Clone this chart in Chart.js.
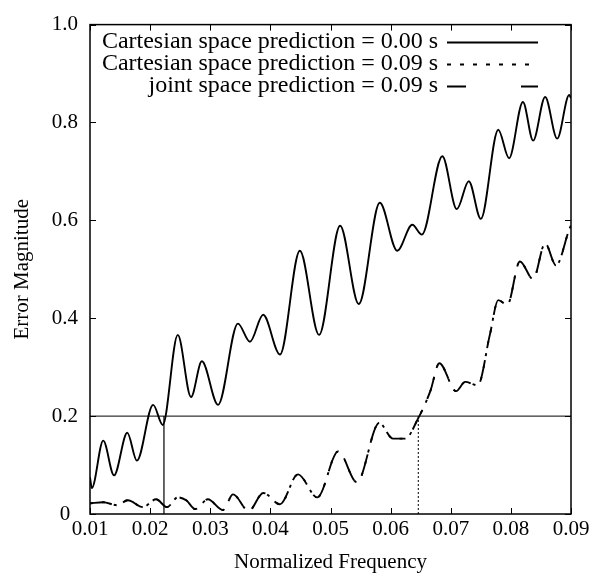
<!DOCTYPE html>
<html>
<head>
<meta charset="utf-8">
<script src="https://cdn.jsdelivr.net/npm/chart.js@4"></script>
<style>
  html, body { margin: 0; padding: 0; background: #fff; }
  #wrap { width: 593px; height: 577px; }
</style>
</head>
<body>
<div id="wrap"><canvas id="c" width="593" height="577"></canvas></div>
<script>
// ---- data ----
const seriesNames = [
  'Cartesian space prediction = 0.00 s',
  'Cartesian space prediction = 0.09 s',
  'joint space prediction = 0.09 s'
];
const cart000Freq = [0.0100,0.0103,0.0122,0.0140,0.0162,0.0178,0.0205,0.0221,0.0246,0.0268,0.0286,0.0313,0.0346,0.0366,0.0388,0.0416,0.0449,0.0481,0.0516,0.0547,0.0582,0.0611,0.0636,0.0652,0.0686,0.0710,0.0730,0.0750,0.0779,0.0797,0.0820,0.0837,0.0857,0.0877,0.0897,0.0900];
const cart000Err  = [0.075,0.053,0.150,0.079,0.166,0.109,0.223,0.182,0.366,0.239,0.312,0.223,0.389,0.352,0.407,0.326,0.538,0.366,0.589,0.429,0.636,0.538,0.591,0.571,0.731,0.623,0.680,0.603,0.785,0.727,0.842,0.763,0.852,0.767,0.856,0.850];

const cart009Freq = [0.0100,0.0122,0.0145,0.0163,0.0188,0.0210,0.0228,0.0246,0.0260,0.0275,0.0296,0.0321,0.0338,0.0364,0.0388,0.0416,0.0446,0.0478,0.0513,0.0544,0.0581,0.0604,0.0624,0.0646,0.0666,0.0681,0.0709,0.0724,0.0745,0.0765,0.0779,0.0794,0.0815,0.0837,0.0857,0.0875,0.0897,0.0900];
const cart009Err  = [0.022,0.024,0.018,0.028,0.014,0.030,0.014,0.034,0.028,0.010,0.030,0.008,0.040,0.006,0.043,0.020,0.081,0.034,0.128,0.065,0.186,0.154,0.154,0.196,0.251,0.308,0.251,0.270,0.263,0.366,0.437,0.427,0.516,0.480,0.553,0.508,0.581,0.590];

const joint009Freq = [0.0100,0.0122,0.0145,0.0163,0.0188,0.0210,0.0228,0.0246,0.0260,0.0275,0.0296,0.0321,0.0338,0.0364,0.0388,0.0416,0.0446,0.0478,0.0513,0.0544,0.0581,0.0604,0.0624,0.0646,0.0666,0.0681,0.0709,0.0724,0.0745,0.0765,0.0779,0.0794,0.0815,0.0837,0.0857,0.0875,0.0897,0.0900];
const joint009Err  = [0.022,0.024,0.018,0.028,0.014,0.030,0.014,0.034,0.028,0.010,0.030,0.008,0.040,0.006,0.043,0.020,0.081,0.034,0.128,0.065,0.186,0.154,0.154,0.196,0.251,0.308,0.251,0.270,0.263,0.366,0.437,0.427,0.516,0.480,0.553,0.508,0.581,0.590];

const thresholdLevel = 0.2;
const crossCart000 = 0.0223;   // where 0.00 s curve crosses 0.2
const crossPred009 = 0.0646;   // where 0.09 s curves cross 0.2
const xTickLabels = ['0.01','0.02','0.03','0.04','0.05','0.06','0.07','0.08','0.09'];
const yTickLabels = ['0','0.2','0.4','0.6','0.8','1.0'];
const xTitle = 'Normalized Frequency';
const yTitle = 'Error Magnitude';

// ---- build chart ----
const FONT = 'Liberation Serif';
const pts = (xs, ys) => xs.map((x, i) => ({x, y: ys[i]}));

const frameAndLegend = {
  id: 'frameAndLegend',
  afterDraw(chart) {
    const {ctx, chartArea: a, scales} = chart;
    const xs = scales.x, ys = scales.y;
    ctx.save();
    ctx.strokeStyle = '#000';
    ctx.lineWidth = 1.5;
    ctx.setLineDash([]);
    ctx.strokeRect(a.left, a.top, a.right - a.left, a.bottom - a.top);
    // inward ticks on all four sides
    const tl = 6;
    ctx.lineWidth = 1;
    ctx.beginPath();
    xs.ticks.forEach(t => {
      const px = Math.round(xs.getPixelForValue(t.value)) + 0.5;
      ctx.moveTo(px, a.bottom); ctx.lineTo(px, a.bottom - tl);
      ctx.moveTo(px, a.top); ctx.lineTo(px, a.top + tl);
    });
    ys.ticks.forEach(t => {
      const py = Math.round(ys.getPixelForValue(t.value)) + 0.5;
      ctx.moveTo(a.left, py); ctx.lineTo(a.left + tl, py);
      ctx.moveTo(a.right, py); ctx.lineTo(a.right - tl, py);
    });
    ctx.stroke();
    // legend (gnuplot-style key)
    ctx.font = '24px "' + FONT + '"';
    ctx.fillStyle = '#000';
    ctx.textAlign = 'right';
    ctx.textBaseline = 'middle';
    const rows = [42, 64, 86];
    const tx = a.left + 348, s0 = a.left + 357, s1 = a.left + 448;
    const dashes = [[], [4, 9], [19, 55]];
    seriesNames.forEach((n, i) => {
      ctx.fillText(n, tx, rows[i]);
      ctx.setLineDash(dashes[i]);
      ctx.lineWidth = 1.8;
      ctx.beginPath();
      ctx.moveTo(s0, rows[i] + 0.5); ctx.lineTo(s1, rows[i] + 0.5);
      ctx.stroke();
    });
    ctx.restore();
  }
};

new Chart(document.getElementById('c'), {
  type: 'line',
  data: {
    datasets: [
      { label: seriesNames[0], data: pts(cart000Freq, cart000Err), borderColor: '#000', borderWidth: 1.9,
        pointRadius: 0, cubicInterpolationMode: 'monotone', fill: false },
      { label: seriesNames[1], data: pts(cart009Freq, cart009Err), borderColor: '#000', borderWidth: 1.9,
        borderDash: [3, 9], pointRadius: 0, cubicInterpolationMode: 'monotone', fill: false },
      { label: seriesNames[2], data: pts(joint009Freq, joint009Err), borderColor: '#000', borderWidth: 1.9,
        borderDash: [22, 12], pointRadius: 0, cubicInterpolationMode: 'monotone', fill: false },
      { label: 'threshold', data: [{x: 0.01, y: thresholdLevel}, {x: 0.09, y: thresholdLevel}],
        borderColor: '#000', borderWidth: 1, pointRadius: 0, tension: 0 },
      { label: 'cross 0.00', data: [{x: crossCart000, y: 0}, {x: crossCart000, y: thresholdLevel}],
        borderColor: '#000', borderWidth: 1.2, pointRadius: 0, tension: 0 },
      { label: 'cross 0.09', data: [{x: crossPred009, y: 0}, {x: crossPred009, y: thresholdLevel}],
        borderColor: '#000', borderWidth: 1, borderDash: [2, 2], pointRadius: 0, tension: 0 }
    ]
  },
  options: {
    responsive: false,
    animation: false,
    devicePixelRatio: 1,
    layout: { padding: { top: 20, right: 22, left: 0, bottom: 0 } },
    plugins: { legend: { display: false }, tooltip: { enabled: false } },
    scales: {
      x: {
        type: 'linear', min: 0.01, max: 0.09,
        afterFit(s) { s.height = 63; },
        afterBuildTicks(s) { s.ticks = xTickLabels.map(l => ({value: parseFloat(l)})); },
        ticks: { callback: (v, i) => xTickLabels[i], color: '#000', padding: 3,
                 font: { family: FONT, size: 21 }, maxRotation: 0, autoSkip: false },
        grid: { display: false, drawTicks: false },
        border: { display: false },
        title: { display: true, text: xTitle, color: '#000', padding: { top: 0, bottom: 2 },
                 font: { family: FONT, size: 21 } }
      },
      y: {
        type: 'linear', min: 0, max: 1,
        afterFit(s) { s.width = 90; },
        afterBuildTicks(s) { s.ticks = yTickLabels.map(l => ({value: parseFloat(l)})); },
        ticks: { callback: (v, i) => yTickLabels[i], color: '#000', padding: 12, crossAlign: 'center',
                 font: { family: FONT, size: 21 }, autoSkip: false },
        grid: { display: false, drawTicks: false },
        border: { display: false },
        title: { display: true, text: yTitle, color: '#000', padding: { top: 10, bottom: 0 },
                 font: { family: FONT, size: 21 } }
      }
    }
  },
  plugins: [frameAndLegend]
});
</script>
</body>
</html>
